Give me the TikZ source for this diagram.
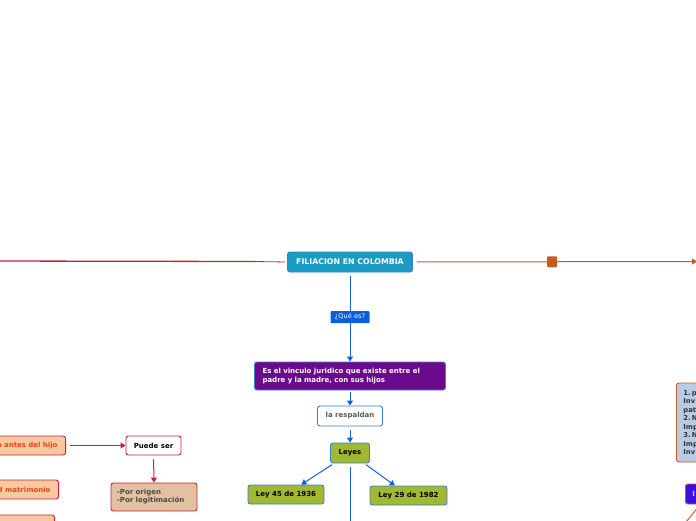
\documentclass[tikz,border=0pt]{standalone}
\usepackage{fontspec}
\setmainfont{DejaVu Sans}
\usetikzlibrary{arrows.meta,calc}

\definecolor{azulborde}{HTML}{3A7FD6}
\definecolor{azullinea}{HTML}{1262D6}
\definecolor{tealfondo}{HTML}{1A9CC2}
\definecolor{azulque}{HTML}{0A5FD8}
\definecolor{morado}{HTML}{6C0A8C}
\definecolor{oliva}{HTML}{A2B832}
\definecolor{carmesi}{HTML}{C8203C}
\definecolor{durazno}{HTML}{F8C8A0}
\definecolor{naranjatexto}{HTML}{EE4212}
\definecolor{tostado}{HTML}{E2C0A0}
\definecolor{naranja}{HTML}{C45C22}
\definecolor{celeste}{HTML}{B8CCE6}
\definecolor{violeta}{HTML}{3A10DC}

\tikzset{
  caja/.style={draw=azulborde, line width=0.9pt, rounded corners=2.5pt, inner sep=0pt,
    font=\fontsize{7}{9}\selectfont\bfseries},
  cajaroja/.style={caja, draw=carmesi},
  cajanaranja/.style={caja, draw=naranja},
  flecha/.style={-{Triangle[width=6pt,length=5pt]}, line width=1pt},
}

\begin{document}
\begin{tikzpicture}[x=1pt,y=-1pt]
\useasboundingbox (0,0) rectangle (696,520);
\clip (0,0) rectangle (696,520);

% centro
\node[caja, fill=tealfondo, text=white, minimum width=125, minimum height=20,
  font=\fontsize{7.8}{9}\selectfont\bfseries] (titulo) at (350,262) {FILIACION EN COLOMBIA};
\node[fill=azulque, text=white, minimum width=39, minimum height=12, inner sep=0pt,
  rounded corners=1pt, font=\fontsize{6.6}{8}\selectfont] (quees) at (350,317) {¿Qué es?};
\node[caja, fill=morado, text=white, text width=175, inner xsep=8, minimum height=28,
  align=left] (definicion) at (350,376)
  {Es el vinculo juridico que existe entre el\\padre y la madre, con sus hijos};
\node[caja, fill=white, text=black!65, minimum width=65, minimum height=20] (respaldan) at (350,416) {la respaldan};
\node[caja, fill=oliva, minimum width=39, minimum height=20] (leyes) at (350,453) {Leyes};
\node[caja, fill=oliva, minimum width=76, minimum height=19] (ley45) at (286,494.5) {Ley 45 de 1936};
\node[caja, fill=oliva, minimum width=77, minimum height=19] (ley29) at (408.5,495.5) {Ley 29 de 1982};

\coordinate (abajo) at (350,530);

\begin{scope}[azullinea]
\draw[line width=1pt, shorten <=4pt] (titulo.south) -- (quees.north);
\draw[flecha] (quees.south) -- (definicion.north);
\draw[flecha, shorten <=2pt] (definicion.south) -- (respaldan.north);
\draw[flecha, shorten <=4pt] (respaldan.south) -- (leyes.north);
\draw[flecha, shorten <=2pt] (leyes) -- (ley45);
\draw[flecha, shorten <=2pt] (leyes) -- (ley29);
\draw[line width=1pt, shorten <=4pt] (leyes.south) -- (abajo);
\end{scope}

% rama izquierda
\coordinate (izq) at (-10,261);
\coordinate (quiebre) at (255,261.5);
\draw[carmesi, line width=1.3pt] (izq) -- (quiebre);
\draw[carmesi, line width=0.8pt, shorten >=2pt] (quiebre) -- (titulo.west);

\node[cajaroja, fill=durazno, text=naranjatexto, anchor=east, text width=100, inner xsep=8,
  minimum height=19, align=right] (hijo) at (66,445.5) {o antes del hijo};
\node[cajaroja, fill=durazno, text=naranjatexto, anchor=east, text width=100, inner xsep=8,
  minimum height=19, align=right] (matrimonio) at (59,489.5) {d matrimonio};
\node[cajaroja, fill=durazno, anchor=east, minimum width=100, minimum height=20] (otro) at (55,525) {};
\node[cajaroja, fill=white, minimum width=55, minimum height=19] (puede) at (153.5,445.5) {Puede ser};
\node[cajaroja, fill=tostado, text=black!70, text width=74, inner xsep=6, minimum height=28,
  align=left, font=\fontsize{7}{8}\selectfont\bfseries] (tipos) at (154,497)
  {-Por origen\\-Por legitimación};

\draw[carmesi, flecha, shorten <=4pt] (hijo.east) -- (puede.west);
\draw[carmesi, flecha, shorten <=4pt] (puede.south) -- (tipos.north);

% rama derecha
\coordinate (der) at (697,261.5);
\draw[naranja, flecha, shorten <=4pt] (titulo.east) --
  node[pos=0.49, fill=naranja, minimum width=10, minimum height=11, inner sep=0pt,
  rounded corners=1pt] (marca) {} (der);

\node[cajanaranja, fill=celeste, text=black!80, anchor=west, text width=80, inner xsep=7,
  minimum height=79, align=left, font=\fontsize{6.8}{8.5}\selectfont\bfseries] (lista) at (676,422.5)
  {1.\,p\\Inv\\pat\\2.\,N\\Imp\\3.\,N\\Imp\\Inv};
\node[cajanaranja, fill=violeta, text=violet!25, anchor=west, text width=60, inner xsep=7,
  minimum height=20, align=left] (violetanodo) at (685,494) {I};
\coordinate (surder) at (686,522);
\draw[naranja, line width=0.9pt] ($(violetanodo.south west)+(12,4)$) -- (surder);
\end{tikzpicture}
\end{document}
